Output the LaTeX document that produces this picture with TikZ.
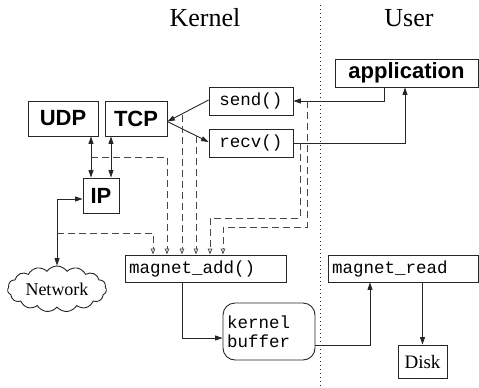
\documentclass[tikz,border=0pt]{standalone}
\usepackage{fontspec}
\setmainfont{Liberation Serif}
\setsansfont{Liberation Sans}
\setmonofont{Liberation Mono}
\usetikzlibrary{arrows.meta,shapes.symbols}
\begin{document}
\begin{tikzpicture}[x=1pt,y=-1pt,
  line width=0.9pt,
  boxs/.style={draw=black!85,rectangle,inner sep=0pt},
  bsans/.style={font=\sffamily\bfseries\fontsize{22}{24}\selectfont},
  tt/.style={font=\ttfamily\fontsize{17.5}{19}\selectfont},
  serif/.style={font=\rmfamily\fontsize{26}{28}\selectfont},
  arr/.style={draw=black!85,-{Triangle[length=7.5pt,width=5pt]}},
  darr/.style={draw=black!85,{Triangle[length=7.5pt,width=5pt]}-{Triangle[length=7.5pt,width=5pt]}},
  dasharr/.style={draw=black!72,line width=1pt,dash pattern=on 7pt off 4pt,-{Triangle[open,length=6pt,width=4.5pt,line width=0.8pt]}}
]
\useasboundingbox (0,0) rectangle (479,388);
% titles
\node[serif] (kern) at (205,18) {Kernel};
\node[serif] (usr) at (409,18) {User};
\draw[black!85,line width=1pt,dash pattern=on 1pt off 3pt] (320,5) -- (320,388);
% boxes
\node[boxs,bsans,minimum width=143,minimum height=28] (app) at (406.5,73) {application};
\node[boxs,tt,minimum width=84,minimum height=28] (send) at (251,101) {send()};
\node[boxs,tt,minimum width=84,minimum height=28] (recv) at (251,143) {recv()};
\node[boxs,bsans,minimum width=70,minimum height=35] (udp) at (63,118.5) {UDP};
\node[boxs,bsans,minimum width=62,minimum height=35] (tcp) at (136,118.5) {TCP};
\node[boxs,bsans,minimum width=36,minimum height=35] (ip) at (101,195.5) {IP};
\node[cloud,draw=black!85,cloud puffs=15,cloud puff arc=110,aspect=2.4,inner sep=0pt,minimum width=99,minimum height=42,font=\rmfamily\fontsize{18}{20}\selectfont] (net) at (57,289) {Network};
\node[boxs,tt,minimum width=161,minimum height=27,text width=153,align=left,inner xsep=4pt] (madd) at (205.5,268.5) {magnet\_add()};
\node[boxs,tt,rounded corners=12pt,minimum width=92,minimum height=57,text width=84,align=left,inner xsep=4pt] (buf) at (269,331.5) {kernel\\buffer};
\node[boxs,tt,minimum width=150,minimum height=27,text width=142,align=left,inner xsep=4pt] (mread) at (403,268.5) {magnet\_read};
\node[boxs,font=\rmfamily\fontsize{19}{21}\selectfont,minimum width=49,minimum height=33] (disk) at (422.5,361.5) {Disk};
% helper coordinates
\coordinate (x91) at (91,0);
\coordinate (x111) at (111,0);
\coordinate (x182) at (182,0);
\coordinate (x370) at (370,0);
\coordinate (x384) at (384,0);
\coordinate (x405) at (405,0);
\coordinate (d1s) at (57,233);
\coordinate (d1c) at (153,233);
\coordinate (d2s) at (91,157);
\coordinate (d2c) at (167,157);
\coordinate (d3s) at (182,115);
\coordinate (d4s) at (196,136);
\coordinate (d5s) at (300,143);
\coordinate (d5a) at (300,218);
\coordinate (d5b) at (210,218);
\coordinate (d6s) at (307,101);
\coordinate (d6a) at (307,227);
\coordinate (d6b) at (223,227);
% solid connectors
\draw[arr] (app.south -| x384) |- (send.east);
\draw[arr] (recv.east) -| (app.south -| x405);
\draw[arr] ([yshift=1pt]send.west) -- ([yshift=-3pt]tcp.east);
\draw[arr] ([yshift=-3pt]tcp.east) -- ([yshift=1pt]recv.west);
\draw[darr] (udp.south -| x91) -- (ip.north -| x91);
\draw[darr] (tcp.south -| x111) -- (ip.north -| x111);
\draw[darr] (net.north) |- ([yshift=-3.5pt]ip.west);
\draw[arr] (madd.south -| x182) |- ([yshift=-6.5pt]buf.west);
\draw[arr] ([yshift=-13.5pt]buf.east) -| (mread.south -| x370);
\draw[arr] (mread.south -| disk.north) -- (disk.north);
% dashed connectors
\draw[dasharr] (d1s) -- (d1c) -- (madd.north -| d1c);
\draw[dasharr] (d2s) -- (d2c) -- (madd.north -| d2c);
\draw[dasharr] (d3s) -- (madd.north -| d3s);
\draw[dasharr] (d4s) -- (madd.north -| d4s);
\draw[dasharr] (d5s) -- (d5a) -- (d5b) -- (madd.north -| d5b);
\draw[dasharr] (d6s) -- (d6a) -- (d6b) -- (madd.north -| d6b);
\end{tikzpicture}
\end{document}
